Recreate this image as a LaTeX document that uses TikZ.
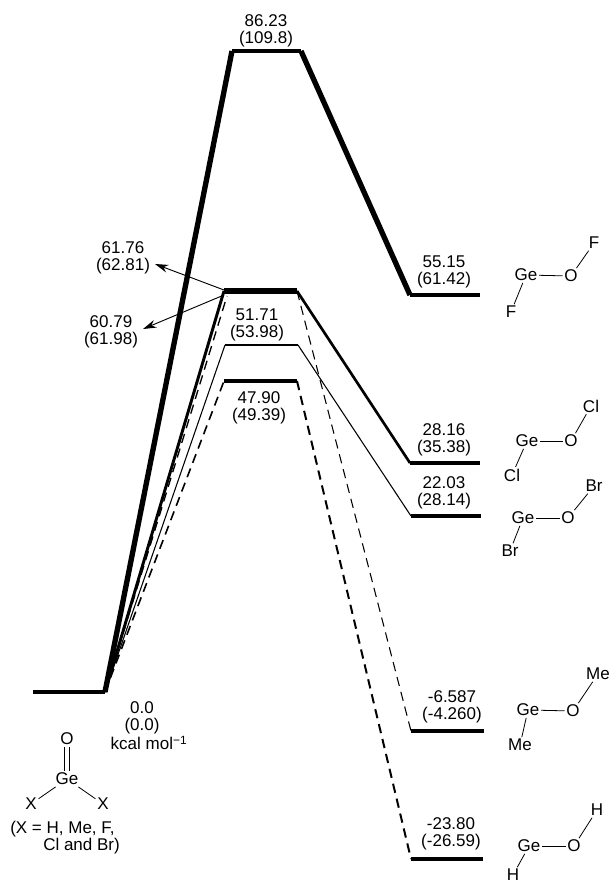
\documentclass[tikz,border=0pt]{standalone}
\usepackage{fontspec}
\setmainfont{Liberation Sans}
\usetikzlibrary{arrows.meta}

\tikzset{
    level/.style={line width=#1, line cap=butt},
    lab/.style={align=center, inner sep=0pt, font=\fontsize{12.75}{12.75}\selectfont},
    atom/.style={inner sep=1.2pt, font=\fontsize{12.75}{12.75}\selectfont},
    bond/.style={line width=0.6pt},
    path/.style={line width=#1, line join=round},
    dpath/.style={line width=#1, dash pattern=on 7pt off 4.5pt},
    pointer/.style={-{Stealth[length=10pt,width=6pt]}, line width=0.7pt}
}

\begin{document}
\begin{tikzpicture}[x=0.75pt, y=-0.75pt]
    \useasboundingbox (0,0) rectangle (612,883);

    % Level end points
    \coordinate (R1) at (33,692);
    \coordinate (R2) at (105,692);
    \coordinate (TSa1) at (232,51);
    \coordinate (TSa2) at (301,51);
    \coordinate (TSb1) at (224,291);
    \coordinate (TSb2) at (297,291);
    \coordinate (TSb3) at (227,296);
    \coordinate (TSc1) at (225,345);
    \coordinate (TSc2) at (298,345);
    \coordinate (TSd1) at (224,381);
    \coordinate (TSd2) at (297,381);
    \coordinate (PF1) at (410,295);
    \coordinate (PF2) at (480,295);
    \coordinate (PCl1) at (410,463);
    \coordinate (PCl2) at (480,463);
    \coordinate (PBr1) at (411,516);
    \coordinate (PBr2) at (481,516);
    \coordinate (PMe1) at (411,731);
    \coordinate (PMe2) at (484,731);
    \coordinate (PH1) at (411,859);
    \coordinate (PH2) at (483,859);

    % Levels
    \draw[level=2.4pt] (R1) -- (R2);
    \draw[level=3pt] (TSa1) -- (TSa2);
    \draw[level=5pt] (TSb1) -- (TSb2);
    \draw[level=2.2pt] (TSc1) -- (TSc2);
    \draw[level=3pt] (TSd1) -- (TSd2);
    \draw[level=2.6pt] (PF1) -- (PF2);
    \draw[level=2.6pt] (PCl1) -- (PCl2);
    \draw[level=3pt] (PBr1) -- (PBr2);
    \draw[level=2.8pt] (PMe1) -- (PMe2);
    \draw[level=2.8pt] (PH1) -- (PH2);

    % Paths
    \draw[path=4pt] (R2) -- (TSa1);
    \draw[path=4pt] (TSa2) -- (PF1);
    \draw[path=2.2pt] (R2) -- (TSb1);
    \draw[path=2pt] (TSb2) -- (PCl1);
    \draw[path=0.8pt] (R2) -- (TSc1);
    \draw[path=0.8pt] (TSc2) -- (PBr1);
    \draw[dpath=1pt] (R2) -- (TSb3);
    \draw[dpath=0.8pt] (TSb2) -- (PMe1);
    \draw[dpath=1.2pt] (R2) -- (TSd1);
    \draw[dpath=1.5pt] (TSd2) -- (PH1);

    % Energies
    \node[lab] (Ea) at (266,31) {86.23\\(109.8)};
    \node[lab] (Eb) at (123,258) {61.76\\(62.81)};
    \node[lab] (Ec) at (111,332) {60.79\\(61.98)};
    \node[lab] (Ed) at (257,325) {51.71\\(53.98)};
    \node[lab] (Ee) at (259,408) {47.90\\(49.39)};
    \node[lab] (EF) at (444,272) {55.15\\(61.42)};
    \node[lab] (ECl) at (444,440) {28.16\\(35.38)};
    \node[lab] (EBr) at (444,493) {22.03\\(28.14)};
    \node[lab] (EMe) at (452,707) {-6.587\\(-4.260)};
    \node[lab] (EH) at (451,834) {-23.80\\(-26.59)};
    \node[lab] (Er) at (142,718) {0.0\\(0.0)};
    \node[lab] (Eu) at (149,743) {kcal mol\textsuperscript{−1}};

    % Pointers to the two upper labels
    \coordinate (Pa) at (224,290);
    \coordinate (Pb) at (224,295);
    \coordinate (Qa) at (155,264);
    \coordinate (Qb) at (143,329);
    \draw[pointer] (Pa) -- (Qa);
    \draw[pointer] (Pb) -- (Qb);

    % Germanone
    \node[atom] (O0) at (67,739) {O};
    \node[atom] (Ge0) at (67,779) {Ge};
    \node[atom] (Xa) at (31,804) {X};
    \node[atom] (Xb) at (103,804) {X};
    \draw[bond, double, double distance=2.6pt] (O0) -- (Ge0);
    \draw[bond] (Ge0) -- (Xa);
    \draw[bond] (Ge0) -- (Xb);
    \node[lab, anchor=west] (Xc) at (10,829) {(X = H, Me, F,};
    \node[lab, anchor=west] (Xd) at (43,846) {Cl and Br)};

    % Products
    \foreach \n/\X/\gx/\gy/\ox/\oy/\ux/\uy/\lx/\ly in {
        F/F/526/275/571/276/594/243/511/312,
        Cl/Cl/527/441/571/441/591/406/512/475,
        Br/Br/523/518/568/518/594/486/510/551,
        Me/Me/528/710/573/711/598/674/520/745,
        H/H/529/846/574/846/597/810/513/875}
    {
        \node[atom] (Ge\n) at (\gx,\gy) {Ge};
        \node[atom] (O\n) at (\ox,\oy) {O};
        \node[atom] (U\n) at (\ux,\uy) {\X};
        \node[atom] (L\n) at (\lx,\ly) {\X};
        \draw[bond] (Ge\n) -- (O\n);
        \draw[bond] (O\n) -- (U\n);
        \draw[bond] (Ge\n) -- (L\n);
    }
\end{tikzpicture}
\end{document}
